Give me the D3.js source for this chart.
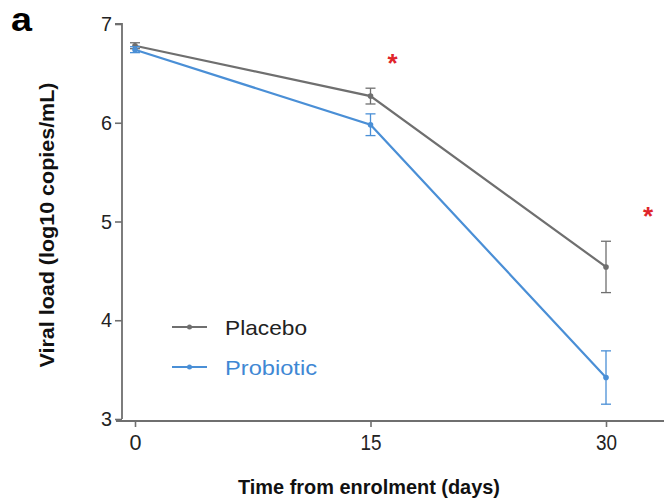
<!DOCTYPE html>
<html><head><meta charset="utf-8">
<script src="https://cdn.jsdelivr.net/npm/d3@7"></script>
<style>body{margin:0;background:#fff}svg{display:block}text{font-family:"Liberation Sans",Arial,sans-serif}</style>
</head><body><svg id="c" width="664" height="504"></svg>
<script>
const days = [0, 15, 30];
const placebo = [6.78, 6.27, 4.54];
const placeboErr = [0.03, 0.08, 0.26];
const probiotic = [6.74, 5.98, 3.42];
const probioticErr = [0.03, 0.11, 0.27];
const starDays = [15, 30];
const starValues = [6.65, 5.1];
const yTicks = [3, 4, 5, 6, 7];
const xTicks = [0, 15, 30];

const svg = d3.select("#c");
const x = d3.scaleLinear().domain([0, 30]).range([135, 606]);
const y = d3.scaleLinear().domain([3, 7]).range([419, 24]);
const gray = "#6f6f6f", blue = "#4a8fd6";

// y axis
const ya = svg.append("g").attr("transform", "translate(122,0)")
  .call(d3.axisLeft(y).tickValues(yTicks).tickSize(7).tickPadding(3).tickFormat(d3.format("d")));
ya.select(".domain").attr("stroke", gray).attr("stroke-width", 1.8).attr("d", "M-7," + y(7) + "H0V" + y(3));
ya.selectAll(".tick line").attr("stroke", gray).attr("stroke-width", 1.6);
ya.selectAll(".tick text").attr("font-size", 21).attr("fill", "#222")
  .attr("textLength", 11).attr("lengthAdjust", "spacingAndGlyphs");

// x axis
const xa = svg.append("g").attr("transform", "translate(0,421)")
  .call(d3.axisBottom(x).tickValues(xTicks).tickSize(6).tickPadding(7));
xa.select(".domain").attr("stroke", gray).attr("stroke-width", 1.8).attr("d", "M116,0H664");
xa.selectAll(".tick line").attr("stroke", gray).attr("stroke-width", 1.6);
xa.selectAll(".tick text").attr("font-size", 22).attr("fill", "#222")
  .attr("textLength", d => d === 0 ? 12 : 21).attr("lengthAdjust", "spacingAndGlyphs");

function series(vals, errs, color) {
  const pts = days.map((d, i) => ({d, v: vals[i], e: errs[i]}));
  svg.append("path").datum(pts).attr("fill", "none").attr("stroke", color).attr("stroke-width", 2.2)
    .attr("d", d3.line().x(p => x(p.d)).y(p => y(p.v)));
  const g = svg.append("g").attr("stroke", color).attr("stroke-width", 1.3);
  pts.forEach(p => {
    g.append("line").attr("x1", x(p.d)).attr("x2", x(p.d)).attr("y1", y(p.v + p.e)).attr("y2", y(p.v - p.e));
    g.append("line").attr("x1", x(p.d) - 5).attr("x2", x(p.d) + 5).attr("y1", y(p.v + p.e)).attr("y2", y(p.v + p.e));
    g.append("line").attr("x1", x(p.d) - 5).attr("x2", x(p.d) + 5).attr("y1", y(p.v - p.e)).attr("y2", y(p.v - p.e));
  });
  svg.append("g").selectAll("circle").data(pts).join("circle")
    .attr("cx", p => x(p.d)).attr("cy", p => y(p.v)).attr("r", 2.8).attr("fill", color);
}
series(placebo, placeboErr, gray);
series(probiotic, probioticErr, blue);

// stars
svg.append("g").selectAll("text").data(starDays).join("text")
  .attr("x", (d, i) => x(d) + (i === 0 ? 22 : 42)).attr("y", (d, i) => y(starValues[i]) + 13)
  .attr("text-anchor", "middle").attr("font-size", 26).attr("font-weight", "bold").attr("fill", "#e0252b").text("*");

// legend
const legend = [{name: "Placebo", color: gray, tc: "#222", w: 82}, {name: "Probiotic", color: blue, tc: "#3f88d4", w: 92}];
legend.forEach((l, i) => {
  const ly = 327 + i * 40;
  svg.append("line").attr("x1", 172).attr("x2", 207).attr("y1", ly).attr("y2", ly).attr("stroke", l.color).attr("stroke-width", 2);
  svg.append("circle").attr("cx", 189.5).attr("cy", ly).attr("r", 2.5).attr("fill", l.color);
  svg.append("text").attr("x", 225).attr("y", ly + 7.5).attr("font-size", 21).attr("fill", l.tc)
    .attr("textLength", l.w).attr("lengthAdjust", "spacingAndGlyphs").text(l.name);
});

// labels
svg.append("text").attr("x", 11).attr("y", 31).attr("font-size", 33).attr("font-weight", "bold")
  .attr("textLength", 21).attr("lengthAdjust", "spacingAndGlyphs").text("a");
svg.append("text").attr("transform", "translate(54,225) rotate(-90)").attr("text-anchor", "middle")
  .attr("font-size", 20).attr("font-weight", "bold").attr("fill", "#111")
  .attr("textLength", 285).attr("lengthAdjust", "spacingAndGlyphs").text("Viral load (log10 copies/mL)");
svg.append("text").attr("x", 369).attr("y", 494).attr("text-anchor", "middle")
  .attr("font-size", 21).attr("font-weight", "bold").attr("fill", "#111")
  .attr("textLength", 262).attr("lengthAdjust", "spacingAndGlyphs").text("Time from enrolment (days)");
</script></body></html>
